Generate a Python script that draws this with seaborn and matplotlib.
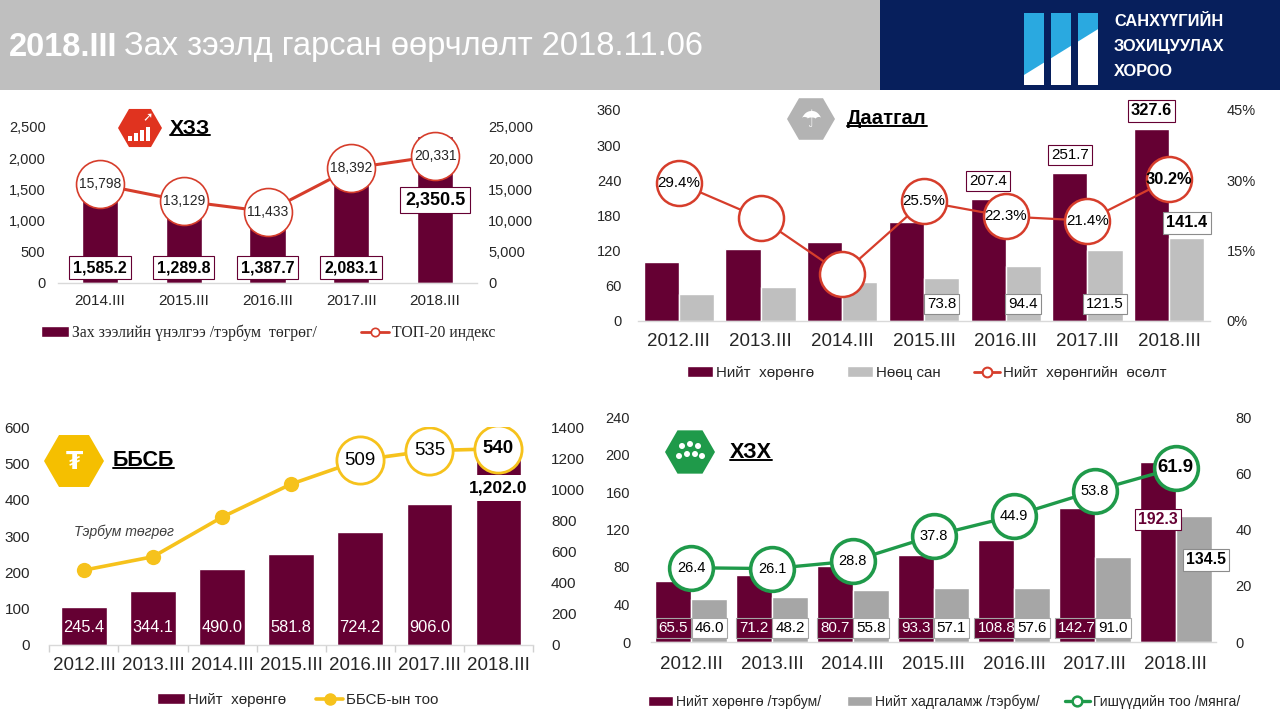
import matplotlib
matplotlib.use('Agg')
import numpy as np
import pandas as pd
import matplotlib.pyplot as plt
import seaborn as sns
from matplotlib import font_manager
from matplotlib.patches import Rectangle, RegularPolygon, Ellipse, Patch, Polygon
from matplotlib.lines import Line2D
from matplotlib.ticker import MultipleLocator, FuncFormatter

# --- data ---
mse_years = ['2014.III', '2015.III', '2016.III', '2017.III', '2018.III']
mse_cap = [1585.2, 1289.8, 1387.7, 2083.1, 2350.5]          # market cap, bn MNT
mse_top20 = [15798, 13129, 11433, 18392, 20331]              # TOP-20 index

years = ['2012.III', '2013.III', '2014.III', '2015.III', '2016.III', '2017.III', '2018.III']

ins_assets = [101, 123, 135, 169, 207.4, 251.7, 327.6]
ins_reserve = [46, 58, 66, 73.8, 94.4, 121.5, 141.4]
ins_growth = [29.4, 21.9, 10.0, 25.5, 22.3, 21.4, 30.2]
ins_growth_shown = [True, False, False, True, True, True, True]

nbfi_assets = [245.4, 344.1, 490.0, 581.8, 724.2, 906.0, 1202.0]
nbfi_count = [206, 243, 352, 443, 509, 535, 540]

cu_assets = [65.5, 71.2, 80.7, 93.3, 108.8, 142.7, 192.3]
cu_savings = [46.0, 48.2, 55.8, 57.1, 57.6, 91.0, 134.5]
cu_members = [26.4, 26.1, 28.8, 37.8, 44.9, 53.8, 61.9]

MAROON = '#650033'
GREY = '#bfbfbf'
RED = '#d63d2b'
GOLD = '#f6c21c'
GREEN = '#1f9a4a'
NAVY = '#071f5c'
TXT = '#262626'

sns.set_theme(style='white')
plt.rcParams['font.family'] = ['Liberation Sans', 'DejaVu Sans']


def has_font(name):
    try:
        font_manager.findfont(name, fallback_to_default=False)
        return True
    except Exception:
        return False


NARROW_OK = has_font('Liberation Sans Narrow')
NARROW = ['Liberation Sans Narrow', 'DejaVu Sans'] if NARROW_OK else ['Liberation Sans', 'DejaVu Sans']


def nf(size):
    return size if NARROW_OK else round(size * 0.84, 1)


W, H = 1280, 720
fig = plt.figure(figsize=(12.8, 7.2), dpi=100)
fig.patch.set_facecolor('white')


def fx(px):
    return px / W


def fy(py):
    return 1 - py / H


def px_axes(x0, x1, y0, y1):
    return fig.add_axes([x0 / W, 1 - y1 / H, (x1 - x0) / W, (y1 - y0) / H])


def px_rect(x, y, w, h, color):
    # x, y = top-left corner in pixels
    fig.add_artist(Rectangle((fx(x), fy(y + h)), w / W, h / H, transform=fig.transFigure,
                             fc=color, ec='none'))


def style(ax, base=True):
    for s in ax.spines.values():
        s.set_visible(False)
    if base:
        ax.spines['bottom'].set_visible(True)
        ax.spines['bottom'].set_color('#d9d9d9')
        ax.spines['bottom'].set_linewidth(1)
    ax.set_xlabel('')
    ax.set_ylabel('')
    ax.grid(False)
    ax.tick_params(length=0, colors=TXT)


def box(ec, fc='white', pad=0.2, lw=0.8):
    return dict(boxstyle=f'square,pad={pad}', fc=fc, ec=ec, lw=lw)


def heading(cx, cy, r, color, label, tx, size):
    fig.add_artist(RegularPolygon((cx / 100, (H - cy) / 100), 6, radius=r / 100,
                                  orientation=np.pi / 6, fc=color, ec='none',
                                  transform=fig.dpi_scale_trans))
    t = fig.text(fx(tx), fy(cy), label, fontsize=size, fontweight='bold',
                 family=NARROW, va='center', ha='left', color='black')
    bb = t.get_window_extent(fig.canvas.get_renderer())
    fig.add_artist(Line2D([bb.x0 / W, bb.x1 / W], [(bb.y0 + 3) / H] * 2,
                          transform=fig.transFigure, color='black', lw=1.4))


def thousands(v, p):
    return f'{v:,.0f}'


# ---------------- header ----------------
px_rect(0, 0, 880, 90, GREY)
px_rect(880, 0, 400, 90, NAVY)
t1 = fig.text(fx(9), fy(47), '2018.III', fontsize=23.5, fontweight='bold',
              family=NARROW, color='white', va='center')
bb = t1.get_window_extent(fig.canvas.get_renderer())
fig.text((bb.x1 + 7) / W, fy(47), 'Зах зээлд гарсан өөрчлөлт 2018.11.06',
         fontsize=23.5, family=NARROW, color='white', va='center')

for x0 in [1024, 1051, 1078]:
    px_rect(x0, 13, 20, 72, '#2aa9e0')
    ys = [75 - (x0 - 1024) * 0.62, 75 - (x0 + 20 - 1024) * 0.62]
    fig.add_artist(Polygon([(fx(x0), fy(ys[0])), (fx(x0 + 20), fy(ys[1])),
                            (fx(x0 + 20), fy(85)), (fx(x0), fy(85))],
                           transform=fig.transFigure, fc='white', ec='none'))
for line, yy in zip(['САНХҮҮГИЙН', 'ЗОХИЦУУЛАХ', 'ХОРОО'], [21, 46, 71]):
    fig.text(fx(1114), fy(yy), line, fontsize=nf(14), fontweight='bold',
             family=NARROW, color='white', va='center')

# ---------------- panel 1: stock exchange ----------------
ax1 = px_axes(58, 477, 127, 283)
sns.barplot(x=mse_years, y=mse_cap, color=MAROON, saturation=1, width=0.43, ax=ax1)
ax1b = ax1.twinx()
sns.lineplot(x=np.arange(len(mse_top20)), y=mse_top20, ax=ax1b, color=RED, lw=2.2,
             marker='o', markersize=34.5, markerfacecolor='white', mec=RED, mew=1.2)
ax1.set_ylim(0, 2500)
ax1b.set_ylim(0, 25000)
ax1.set_xlim(-0.5, 4.5)
ax1.yaxis.set_major_locator(MultipleLocator(500))
ax1b.yaxis.set_major_locator(MultipleLocator(5000))
ax1.yaxis.set_major_formatter(FuncFormatter(thousands))
ax1b.yaxis.set_major_formatter(FuncFormatter(thousands))
style(ax1)
style(ax1b, base=False)
ax1.tick_params(axis='y', pad=9, labelsize=10.5)
ax1.tick_params(axis='x', pad=8, labelsize=11)
ax1b.tick_params(axis='y', pad=8, labelsize=10.5)
for i, v in enumerate(mse_top20):
    ax1b.text(i, v, f'{v:,}', ha='center', va='center', fontsize=10, color=TXT, zorder=5)
for i, v in enumerate(mse_cap):
    last = i == len(mse_cap) - 1
    ax1b.text(i, v * 0.565 if last else 248, f'{v:,.1f}', transform=ax1.transData,
              ha='center', va='center', fontsize=13 if last else 11.5, fontweight='bold',
              color='black', bbox=box(MAROON, pad=0.25), zorder=6)
heading(140, 128, 22, '#e0331f', 'ХЗЗ', 170, nf(18))
for k, h in enumerate([5, 8, 11, 14]):
    px_rect(128 + k * 6, 141 - h, 4, h, 'white')
fig.text(fx(148), fy(118), '➚', family=['DejaVu Sans'], fontsize=9, color='white',
         ha='center', va='center')
fig.legend([Patch(fc=MAROON), Line2D([], [], color=RED, lw=2, marker='o', ms=6,
                                     mfc='white', mec=RED, mew=1.2)],
           ['Зах зээлийн үнэлгээ /тэрбум  төгрөг/', 'ТОП-20 индекс'],
           loc='center', bbox_to_anchor=(fx(268), fy(333)), ncol=2, frameon=False,
           prop={'family': 'Liberation Serif', 'size': 11.3}, handlelength=1.8,
           handleheight=0.7, handletextpad=0.2, columnspacing=2.8, labelcolor=TXT)

# ---------------- panel 2: insurance ----------------
ax2 = px_axes(638, 1210, 110, 321)
ins_df = pd.DataFrame({'year': years * 2, 'value': ins_assets + ins_reserve,
                       'series': ['assets'] * 7 + ['reserve'] * 7})
sns.barplot(data=ins_df, x='year', y='value', hue='series', palette=[MAROON, GREY],
            saturation=1, width=0.86, legend=False, ax=ax2)
ax2b = ax2.twinx()
sns.lineplot(x=np.arange(len(years)), y=ins_growth, ax=ax2b, color=RED, lw=1.6,
             marker='o', markersize=32.4, markerfacecolor='white', mec=RED, mew=1.8)
ax2.set_ylim(0, 360)
ax2b.set_ylim(0, 45)
ax2.set_xlim(-0.5, 6.5)
ax2.yaxis.set_major_locator(MultipleLocator(60))
ax2b.yaxis.set_major_locator(MultipleLocator(15))
ax2b.yaxis.set_major_formatter(FuncFormatter(lambda v, p: f'{v:.0f}%'))
style(ax2)
style(ax2b, base=False)
ax2.tick_params(axis='y', pad=12, labelsize=10.5)
ax2.tick_params(axis='x', pad=9, labelsize=13.5)
ax2b.tick_params(axis='y', pad=12, labelsize=10.5)
off = 0.215
for i, (v, show) in enumerate(zip(ins_growth, ins_growth_shown)):
    if show:
        last = i == len(ins_growth) - 1
        ax2b.text(i, v, f'{v:.1f}%', ha='center', va='center', family=NARROW,
                  fontsize=nf(14 if last else 13), fontweight='bold' if last else 'normal',
                  color='black', zorder=5)
for i in range(4, 7):
    last = i == 6
    ax2b.text(i - off, ins_assets[i] + 31, f'{ins_assets[i]:.1f}', transform=ax2.transData,
              ha='center', va='center', family=NARROW, fontsize=nf(14 if last else 13),
              fontweight='bold' if last else 'normal', color='black',
              bbox=box(MAROON), zorder=6)
for i in range(3, 6):
    ax2b.text(i + off, 29, f'{ins_reserve[i]:.1f}', transform=ax2.transData,
              ha='center', va='center', family=NARROW, fontsize=nf(13), color='black',
              bbox=box('#8c8c8c'), zorder=6)
ax2b.text(6 + off, ins_reserve[6] + 26, f'{ins_reserve[6]:.1f}', transform=ax2.transData,
          ha='center', va='center', family=NARROW, fontsize=nf(14), fontweight='bold',
          color='black', bbox=box('#8c8c8c'), zorder=6)
heading(811, 119, 24, '#b3b3b3', 'Даатгал', 847, 14.6)
fig.text(fx(811), fy(120), '☂', family=['DejaVu Sans'], fontsize=17, color='white',
         ha='center', va='center')
fig.legend([Patch(fc=MAROON), Patch(fc=GREY),
            Line2D([], [], color=RED, lw=2, marker='o', ms=7, mfc='white', mec=RED, mew=1.5)],
           ['Нийт  хөрөнгө', 'Нөөц сан', 'Нийт  хөрөнгийн  өсөлт'],
           loc='center', bbox_to_anchor=(fx(927), fy(373)), ncol=3, frameon=False,
           prop={'family': NARROW, 'size': nf(13)}, handlelength=1.7, handleheight=0.7,
           handletextpad=0.2, columnspacing=2.2, labelcolor=TXT)

# ---------------- panel 3: NBFI ----------------
ax3 = px_axes(49.4, 533, 427, 645)
sns.barplot(x=years, y=nbfi_assets, color=MAROON, saturation=1, width=0.66, ax=ax3)
ax3b = ax3.twinx()
ax3.yaxis.tick_right()
ax3b.yaxis.tick_left()
sns.lineplot(x=np.arange(len(years)), y=nbfi_count, ax=ax3b, color=GOLD, lw=2.6,
             marker='o', markersize=11, mec=GOLD, mew=0)
big = np.arange(4, len(years))
sns.scatterplot(x=big, y=[nbfi_count[i] for i in big], s=34 ** 2, color='white',
                edgecolor=GOLD, linewidth=2, ax=ax3b, zorder=4, legend=False)
ax3.set_ylim(0, 1400)
ax3b.set_ylim(0, 600)
ax3.set_xlim(-0.5, 6.5)
ax3.yaxis.set_major_locator(MultipleLocator(200))
ax3b.yaxis.set_major_locator(MultipleLocator(100))
style(ax3)
style(ax3b, base=False)
ax3.set_xticks(np.arange(-0.5, 7, 1), minor=True)
ax3.tick_params(axis='x', which='minor', length=5, width=1, color='#d0d0d0', bottom=True)
ax3.tick_params(axis='y', pad=13, labelsize=11)
ax3.tick_params(axis='x', which='major', pad=9, labelsize=13.5)
ax3b.tick_params(axis='y', pad=14, labelsize=11)
for i in big:
    last = i == len(years) - 1
    ax3b.text(i, nbfi_count[i], f'{nbfi_count[i]}', ha='center', va='center', family=NARROW,
              fontsize=nf(16), fontweight='bold' if last else 'normal', color='black', zorder=6)
for i, v in enumerate(nbfi_assets[:-1]):
    ax3.text(i, 110, f'{v:.1f}', ha='center', va='center', family=NARROW, fontsize=nf(14),
             color='white', zorder=5)
ax3.text(6, 1008, f'{nbfi_assets[-1]:,.1f}', ha='center', va='center', family=NARROW,
         fontsize=nf(15), fontweight='bold', color='black',
         bbox=box('none', pad=0.3, lw=0), zorder=5)
heading(74, 461, 30, '#f5bf00', 'ББСБ', 113, 15.5)
fig.text(fx(74), fy(462), '₮', family=['DejaVu Sans'], fontsize=18, fontweight='bold',
         color='white', ha='center', va='center')
fig.text(fx(74), fy(532), 'Тэрбум төгрөг', family=NARROW, style='italic',
         fontsize=nf(12), color='#404040', va='center')
fig.legend([Patch(fc=MAROON),
            Line2D([], [], color=GOLD, lw=2.6, marker='o', ms=8, mfc=GOLD, mec=GOLD)],
           ['Нийт  хөрөнгө', 'ББСБ-ын тоо'],
           loc='center', bbox_to_anchor=(fx(298), fy(700)), ncol=2, frameon=False,
           prop={'family': NARROW, 'size': nf(13)}, handlelength=1.8, handleheight=0.7,
           handletextpad=0.2, columnspacing=2.0, labelcolor=TXT)

# ---------------- panel 4: savings & credit cooperatives ----------------
ax4 = px_axes(651, 1216, 417, 642)
cu_df = pd.DataFrame({'year': years * 2, 'value': cu_assets + cu_savings,
                      'series': ['assets'] * 7 + ['savings'] * 7})
sns.barplot(data=cu_df, x='year', y='value', hue='series', palette=[MAROON, '#a6a6a6'],
            saturation=1, width=0.89, legend=False, ax=ax4)
ax4b = ax4.twinx()
sns.lineplot(x=np.arange(len(years)), y=cu_members, ax=ax4b, color=GREEN, lw=2.4,
             marker='o', markersize=31.5, markerfacecolor='white', mec=GREEN, mew=2.6)
ax4.set_ylim(0, 240)
ax4b.set_ylim(0, 80)
ax4.set_xlim(-0.5, 6.5)
ax4.yaxis.set_major_locator(MultipleLocator(40))
ax4b.yaxis.set_major_locator(MultipleLocator(20))
style(ax4)
style(ax4b, base=False)
ax4.tick_params(axis='y', pad=15, labelsize=10.5)
ax4.tick_params(axis='x', pad=10, labelsize=13.5)
ax4b.tick_params(axis='y', pad=14, labelsize=10.5)
off = 0.2225
for i, v in enumerate(cu_members):
    last = i == len(cu_members) - 1
    ax4b.text(i, v, f'{v:.1f}', ha='center', va='center', family=NARROW,
              fontsize=nf(16 if last else 12.5), fontweight='bold' if last else 'normal',
              color='black', zorder=6)
for i in range(6):
    ax4b.text(i - off, 15, f'{cu_assets[i]:.1f}', transform=ax4.transData, ha='center',
              va='center', family=NARROW, fontsize=nf(13), color='white',
              bbox=box('#a6a6a6', fc=MAROON), zorder=5)
    ax4b.text(i + off, 15, f'{cu_savings[i]:.1f}', transform=ax4.transData, ha='center',
              va='center', family=NARROW, fontsize=nf(13), color='black',
              bbox=box('#a6a6a6'), zorder=5)
ax4b.text(6 - off, cu_assets[6] - 62, f'{cu_assets[6]:.1f}', transform=ax4.transData,
          ha='center', va='center', family=NARROW, fontsize=nf(13.5), fontweight='bold',
          color=MAROON, bbox=box(MAROON), zorder=6)
ax4b.text(6 + off + 0.15, cu_savings[6] - 47, f'{cu_savings[6]:.1f}', transform=ax4.transData,
          ha='center', va='center', family=NARROW, fontsize=nf(13.5), fontweight='bold',
          color='black', bbox=box('#8c8c8c'), zorder=6)
heading(690, 452, 25, GREEN, 'ХЗХ', 730, 15.5)
for dx, dy in [(-8, -6), (0, -8), (8, -6), (-11, 4), (-3, 2), (5, 2), (12, 4)]:
    fig.add_artist(Ellipse((fx(690 + dx), fy(452 + dy)), 6 / W, 6 / H,
                           transform=fig.transFigure, fc='white', ec='none'))
fig.legend([Patch(fc=MAROON), Patch(fc='#a6a6a6'),
            Line2D([], [], color=GREEN, lw=2.4, marker='o', ms=7, mfc='white', mec=GREEN,
                   mew=1.8)],
           ['Нийт хөрөнгө /тэрбум/', 'Нийт хадгаламж /тэрбум/', 'Гишүүдийн тоо /мянга/'],
           loc='center', bbox_to_anchor=(fx(944), fy(702)), ncol=3, frameon=False,
           prop={'family': NARROW, 'size': nf(12)}, handlelength=1.8, handleheight=0.7,
           handletextpad=0.2, columnspacing=1.8, labelcolor=TXT)

fig.savefig('out.png', dpi=100)
